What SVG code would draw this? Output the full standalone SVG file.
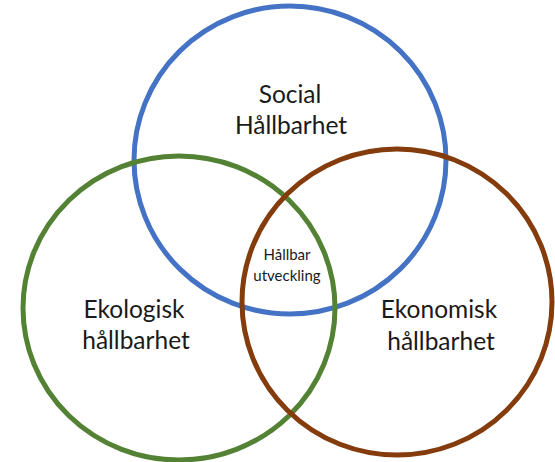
<svg xmlns="http://www.w3.org/2000/svg" width="555" height="462" viewBox="0 0 555 462">
<style>
.c{fill:none;stroke-width:5}
.t{font-family:Lato,"Open Sans",sans-serif;fill:#1a1a1a;text-anchor:middle}
.big{font-size:24.5px}
.small{font-size:15px}
</style>
<rect width="555" height="462" fill="#fff"/>
<g id="social">
<ellipse class="c" cx="290" cy="160" rx="156" ry="154" stroke="#4472C4"/>
<text class="t big" x="290" y="103">Social</text>
<text class="t big" x="291" y="134">Hållbarhet</text>
</g>
<g id="ekologisk">
<ellipse class="c" cx="179" cy="308" rx="156" ry="152" stroke="#548235"/>
<text class="t big" x="134" y="318">Ekologisk</text>
<text class="t big" x="136" y="349">hållbarhet</text>
</g>
<g id="ekonomisk">
<ellipse class="c" cx="397" cy="302" rx="155" ry="153" stroke="#843C0C"/>
<text class="t big" x="439" y="318">Ekonomisk</text>
<text class="t big" x="441" y="350">hållbarhet</text>
</g>
<g id="hallbar">
<text class="t small" x="287" y="260">Hållbar</text>
<text class="t small" x="287" y="281">utveckling</text>
</g>
<g id="connectors"/>
</svg>
